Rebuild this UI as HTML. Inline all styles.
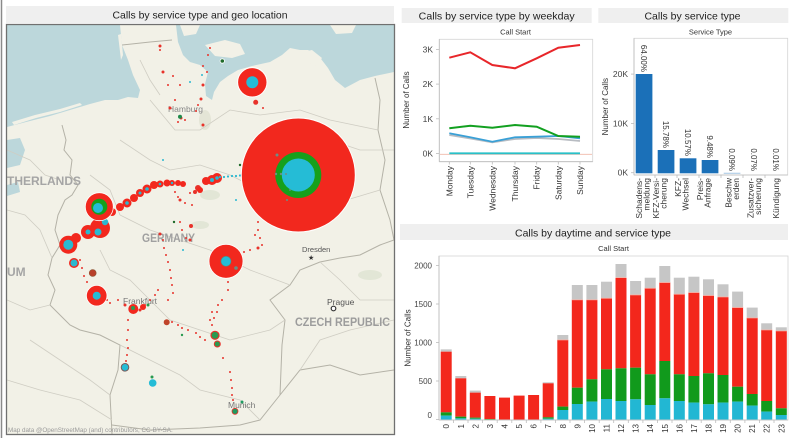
<!DOCTYPE html>
<html><head><meta charset="utf-8"><style>
html,body{margin:0;padding:0;background:#fff;}
svg{display:block;font-family:"Liberation Sans",Arial,sans-serif;}
</style></head><body>
<svg width="800" height="438" viewBox="0 0 800 438" xmlns="http://www.w3.org/2000/svg">
<defs><clipPath id="mc"><rect x="7" y="25" width="387" height="409"/></clipPath></defs>
<rect x="0" y="0" width="800" height="438" fill="#fff"/>
<line x1="1.5" y1="0" x2="1.5" y2="438" stroke="#8a8a8a" stroke-width="1.5"/>

<!-- ============ MAP PANEL ============ -->
<rect x="6" y="6" width="388" height="17" fill="#efefef"/>
<text x="200" y="18.5" font-size="10.5" fill="#222" text-anchor="middle" textLength="175" lengthAdjust="spacingAndGlyphs">Calls by service type and geo location</text>
<g clip-path="url(#mc)">
<rect x="7" y="25" width="387" height="409" fill="#f2f1e7"/>
<polygon fill="#bcd7db" points="7,25 120,25 122,45 128,60 133,75 140,90 138,98 128,97 118,100 105,100 90,104 70,110 50,116 30,121 7,127"/>
<polygon fill="#f2f1e7" points="12,122 35,115 60,109 80,103 82,105 60,112 36,118 14,125"/>
<polygon fill="#f2f1e7" points="118,35 121,34 123,55 121,60"/>
<polygon fill="#bcd7db" points="176,25 394,25 394,72 375,76 360,80 345,88 335,80 328,68 318,55 308,50 300,50 290,48 282,55 270,62 252,66 238,70 228,76 220,82 214,92 212,100 206,96 205,84 208,72 200,65 190,62 183,55 178,42"/>
<polygon fill="#f2f1e7" points="205,45 225,40 240,44 245,54 232,58 215,56"/>
<polygon fill="#f2f1e7" points="330,25 356,25 352,33 336,34"/>
<polygon fill="#f2f1e7" points="302,52 312,50 322,58 316,66 306,62"/>
<polygon fill="#f2f1e7" points="180,25 200,25 196,34 184,36"/>
<polygon fill="#bcd7db" points="7,140 20,138 25,150 20,165 7,168"/>
<polygon fill="#bcd7db" points="7,185 18,182 20,192 7,196"/>
<ellipse cx="210" cy="195" rx="10" ry="5" fill="#e2e6d6"/>
<ellipse cx="205" cy="120" rx="6" ry="10" fill="#e4e5d6"/>
<ellipse cx="370" cy="275" rx="12" ry="5" fill="#e2e6d6"/>
<ellipse cx="200" cy="225" rx="9" ry="4" fill="#e2e6d6"/>
<g fill="none" stroke="#b4b2a7" stroke-width="1">
<polyline points="62,125 66,140 64,150 72,160 70,175 78,185 72,195 65,200 58,215 55,230 60,245 52,258 48,275 55,290 50,305 60,315 70,325 80,330 100,335 120,345 118,370 110,395 112,434"/>
<polyline points="112,425 150,430 200,428 240,425 260,420 280,395 300,370 330,365 360,375 394,370"/>
<polyline points="280,395 282,345 285,320 270,300 290,285 300,270 320,262 340,258 360,255 380,245 394,240"/>
<polyline points="375,78 380,100 378,130 385,160 380,190 390,220 394,240"/>
<polyline points="122,45 150,42 172,40"/>
</g>
<g fill="none" stroke="#cfcdc3" stroke-width="0.8">
<polyline points="7,150 30,160 45,175 60,180"/>
<polyline points="7,210 25,215 40,230 52,258"/>
<polyline points="7,300 30,310 50,305"/>
<polyline points="150,100 175,130 200,130 230,110 260,115 300,110 330,120 378,130"/>
<polyline points="120,140 150,160 170,170 200,165 230,175 260,190 300,200 330,205 380,190"/>
<polyline points="90,175 110,190 120,215 150,230 180,240 210,250 250,270 290,285"/>
<polyline points="100,250 110,270 130,280 150,300 170,320 200,330 230,340 270,330 285,320"/>
<polyline points="120,345 150,360 180,375 200,390 240,400 260,420"/>
<polyline points="30,340 60,360 90,380 110,395"/>
<polyline points="300,370 320,340 350,330 394,320"/>
<polyline points="320,262 340,280 360,300 394,300"/>
<polyline points="7,380 40,390 80,400 112,420"/>
<polyline points="140,60 150,80 160,95"/>
<polyline points="330,140 360,150 394,150"/>
</g>
<text x="7" y="185" font-size="12" font-weight="bold" fill="#a5a5a5">THERLANDS</text>
<text x="7" y="276" font-size="12" font-weight="bold" fill="#a5a5a5">UM</text>
<text x="142" y="242" font-size="11.5" font-weight="bold" fill="#a0a0a0" textLength="53" lengthAdjust="spacingAndGlyphs">GERMANY</text>
<text x="295" y="326" font-size="12" font-weight="bold" fill="#9c9c9c" textLength="95" lengthAdjust="spacingAndGlyphs">CZECH REPUBLIC</text>
<text x="168" y="112" font-size="8.5" fill="#888">Hamburg</text>
<text x="302" y="252" font-size="7.5" fill="#555">Dresden</text>
<text x="308" y="260" font-size="7" fill="#333">★</text>
<text x="327" y="305" font-size="8.5" fill="#555">Prague</text>
<circle cx="333.5" cy="308.5" r="2.3" fill="#fff" stroke="#333" stroke-width="1.2"/>
<text x="123" y="304" font-size="8.5" fill="#777">Frankfurt</text>
<text x="228" y="408" font-size="8.5" fill="#777">Munich</text>
<text x="8" y="432" font-size="6.3" fill="#9a9a9a">Map data @OpenStreetMap (and) contributors, CC-BY-SA.</text>

<g fill="#e8322a">
<circle cx="160" cy="46" r="1.5"/><circle cx="160" cy="50" r="1"/><circle cx="163" cy="72" r="1.5"/><circle cx="173" cy="76" r="1"/><circle cx="168" cy="85" r="1"/><circle cx="180" cy="85" r="1"/><circle cx="175" cy="100" r="1"/><circle cx="170" cy="108" r="1.5"/><circle cx="181" cy="118" r="1.5"/><circle cx="185" cy="120" r="1"/><circle cx="178" cy="122" r="1"/><circle cx="203" cy="66" r="1"/><circle cx="207" cy="72" r="1"/><circle cx="203" cy="85" r="1.5"/><circle cx="201" cy="99" r="1.5"/><circle cx="198" cy="105" r="1"/><circle cx="203" cy="125" r="1.5"/><circle cx="196" cy="111" r="1"/>
<circle cx="255.7" cy="102.3" r="2.5"/><circle cx="263" cy="108" r="1"/>
<circle cx="175" cy="192" r="1"/><circle cx="178" cy="197" r="1"/><circle cx="190" cy="193" r="1"/><circle cx="195" cy="192" r="2"/><circle cx="198" cy="188" r="3"/><circle cx="180" cy="200" r="1.5"/><circle cx="185" cy="203" r="1"/><circle cx="192" cy="205" r="1"/>
<circle cx="163" cy="240" r="1"/><circle cx="164" cy="248" r="1"/><circle cx="166" cy="255" r="1"/><circle cx="168" cy="262" r="1"/><circle cx="170" cy="270" r="1"/><circle cx="171" cy="278" r="1"/><circle cx="172" cy="285" r="1"/><circle cx="173" cy="293" r="1"/><circle cx="168" cy="300" r="1"/><circle cx="160" cy="234" r="1.5"/>
<circle cx="180" cy="222" r="1"/><circle cx="182" cy="230" r="1"/><circle cx="186" cy="238" r="1"/><circle cx="190" cy="240" r="1.5"/><circle cx="191" cy="226" r="2"/>
<circle cx="258" cy="222" r="1"/><circle cx="258" cy="230" r="1"/><circle cx="260" cy="238" r="1"/><circle cx="262" cy="245" r="1"/><circle cx="258" cy="248" r="1.5"/><circle cx="262" cy="212" r="1"/><circle cx="255" cy="235" r="1"/><circle cx="244" cy="252" r="1"/><circle cx="250" cy="250" r="1"/>
<circle cx="228" cy="282" r="1"/><circle cx="228" cy="290" r="1"/><circle cx="222" cy="300" r="1"/><circle cx="218" cy="305" r="1"/><circle cx="212" cy="312" r="1"/><circle cx="210" cy="320" r="1"/>
<circle cx="118" cy="300" r="1"/><circle cx="125" cy="305" r="1.5"/><circle cx="140" cy="310" r="1.5"/><circle cx="145" cy="305" r="1"/><circle cx="150" cy="300" r="1"/><circle cx="155" cy="295" r="1"/><circle cx="158" cy="290" r="1"/>
<circle cx="128" cy="320" r="1"/><circle cx="128" cy="330" r="1"/><circle cx="127" cy="340" r="1"/><circle cx="128" cy="348" r="1"/><circle cx="127" cy="355" r="1"/><circle cx="126" cy="361" r="1"/>
<circle cx="172" cy="322" r="1"/><circle cx="178" cy="325" r="1"/><circle cx="182" cy="328" r="1"/><circle cx="188" cy="330" r="1"/><circle cx="196" cy="333" r="1"/><circle cx="200" cy="337" r="1"/><circle cx="205" cy="340" r="1"/>
<circle cx="217" cy="312" r="1"/><circle cx="214" cy="318" r="1"/><circle cx="212" cy="325" r="1"/><circle cx="223" cy="358" r="1"/><circle cx="230" cy="372" r="1"/><circle cx="231" cy="380" r="1"/><circle cx="232" cy="388" r="1"/><circle cx="232" cy="395" r="1"/><circle cx="233" cy="400" r="1"/>
<circle cx="80" cy="260" r="1"/><circle cx="82" cy="268" r="1"/><circle cx="84" cy="276" r="1"/><circle cx="87" cy="282" r="1"/><circle cx="104" cy="290" r="1"/><circle cx="107" cy="300" r="1"/><circle cx="110" cy="303" r="1"/>
<circle cx="208" cy="55" r="1"/><circle cx="210" cy="48" r="1"/>
</g>
<g fill="#f2281e">
<circle cx="112" cy="212" r="4"/><circle cx="120" cy="207" r="4"/><circle cx="127" cy="203" r="4.5"/><circle cx="134" cy="198" r="4"/><circle cx="140" cy="193" r="4"/><circle cx="147" cy="189" r="4.5"/><circle cx="154" cy="185" r="4"/><circle cx="160" cy="184" r="3.5"/><circle cx="167" cy="183" r="3.5"/><circle cx="172" cy="183" r="3"/><circle cx="178" cy="183" r="3"/><circle cx="183" cy="184" r="3"/><circle cx="200" cy="190" r="3"/><circle cx="206" cy="181" r="4"/><circle cx="212" cy="180" r="5"/><circle cx="217" cy="178" r="5"/>
<circle cx="100" cy="228" r="10"/><circle cx="88" cy="232" r="7"/><circle cx="68.3" cy="244.7" r="9"/><circle cx="76" cy="238" r="5"/><circle cx="74" cy="263" r="5"/>
<circle cx="133.3" cy="309" r="5"/><circle cx="143" cy="307" r="3"/>
</g>
<g fill="#2bb8d0">
<circle cx="127" cy="203" r="1.8"/><circle cx="140" cy="193" r="1.5"/><circle cx="147" cy="189" r="1.8"/><circle cx="160" cy="184" r="1.3"/><circle cx="172" cy="183" r="1.2"/><circle cx="212" cy="180" r="2"/><circle cx="217" cy="178" r="1.8"/>
<circle cx="105" cy="222" r="3.2"/><circle cx="98" cy="232" r="3.5"/><circle cx="88" cy="232" r="2.5"/><circle cx="68.3" cy="244.7" r="5"/><circle cx="74" cy="263" r="3.5"/>
<circle cx="220" cy="177" r="1.1"/><circle cx="224" cy="177" r="1.1"/><circle cx="228" cy="176.5" r="1.1"/><circle cx="232" cy="176" r="1.1"/><circle cx="236" cy="176" r="1.1"/><circle cx="240" cy="175.5" r="1.1"/><circle cx="245" cy="175" r="1.1"/><circle cx="250" cy="175" r="1.1"/><circle cx="255" cy="175" r="1.1"/><circle cx="260" cy="175" r="1.1"/><circle cx="265" cy="174.5" r="1.1"/><circle cx="270" cy="174.5" r="1.1"/>
<circle cx="202" cy="75" r="1"/><circle cx="190" cy="82" r="1"/><circle cx="163" cy="160" r="1"/><circle cx="236" cy="200" r="1"/><circle cx="183" cy="250" r="1"/>
</g>
<g fill="#6a8f86">
<circle cx="283" cy="128" r="0.9"/><circle cx="283" cy="134" r="0.9"/><circle cx="283" cy="140" r="0.9"/><circle cx="283" cy="146" r="0.9"/><circle cx="283" cy="152" r="0.9"/><circle cx="283" cy="158" r="0.9"/><circle cx="283" cy="164" r="0.9"/><circle cx="283" cy="186" r="0.9"/><circle cx="283" cy="192" r="0.9"/><circle cx="283" cy="198" r="0.9"/><circle cx="283" cy="204" r="0.9"/><circle cx="283" cy="210" r="0.9"/>
</g>
<circle cx="298.3" cy="175" r="57" fill="#f2281e" stroke="#fff" stroke-width="1"/>
<circle cx="298.3" cy="175" r="23" fill="#16a01c"/>
<circle cx="298.3" cy="175" r="16.5" fill="#25bcd6"/>
<g fill="#6a8f86"><circle cx="276" cy="174" r="1.2"/><circle cx="281" cy="174" r="1.2"/><circle cx="286" cy="174" r="1"/><circle cx="277" cy="155" r="1.5"/><circle cx="287" cy="200" r="1"/><circle cx="290" cy="190" r="0.9"/></g>
<circle cx="252.3" cy="82.3" r="14.7" fill="#f2281e" stroke="#fff" stroke-width="1"/>
<circle cx="252.3" cy="82.3" r="6" fill="#25bcd6"/>
<circle cx="99.3" cy="206.7" r="14" fill="#f2281e" stroke="#fff" stroke-width="0.8"/>
<circle cx="99.3" cy="206.7" r="8" fill="#16a01c"/>
<circle cx="98" cy="208" r="5" fill="#25bcd6"/>
<circle cx="226" cy="261.3" r="17" fill="#f2281e" stroke="#fff" stroke-width="0.8"/>
<circle cx="226" cy="261.3" r="5" fill="#25bcd6" stroke="#5a8a7a" stroke-width="0.6"/>
<circle cx="236" cy="268" r="1.8" fill="#6a8f86"/>
<circle cx="96.7" cy="295.7" r="10.3" fill="#f2281e" stroke="#fff" stroke-width="0.8"/>
<circle cx="96.7" cy="295.7" r="4" fill="#25bcd6"/>
<circle cx="92.7" cy="273" r="3.5" fill="#b8402a" stroke="#8a5a3a" stroke-width="0.6"/>
<circle cx="166.7" cy="322.3" r="3" fill="#c0442a"/>
<circle cx="215" cy="335.3" r="4" fill="#2a9a50" stroke="#e8322a" stroke-width="1.2"/>
<circle cx="217.3" cy="344" r="3" fill="#2a9a50" stroke="#e8322a" stroke-width="1"/>
<circle cx="125" cy="367.3" r="3.8" fill="#25bcd6" stroke="#7a5a5a" stroke-width="1"/>
<circle cx="152.7" cy="383" r="3.8" fill="#25bcd6"/>
<circle cx="152" cy="377" r="1.5" fill="#2a9a50"/>
<circle cx="235" cy="411.3" r="3" fill="#1f9a60" stroke="#e8322a" stroke-width="0.8"/>
<circle cx="242" cy="402" r="1.5" fill="#1f9a60"/>
<circle cx="180" cy="116.7" r="2" fill="#1f8a4a"/>
<circle cx="222.3" cy="61" r="2.2" fill="#1f6a2a" stroke="#fff" stroke-width="0.8"/>
<circle cx="133" cy="308" r="2" fill="#2a9a50"/>
<circle cx="148" cy="305" r="1.5" fill="#2a9a50"/>
<circle cx="182" cy="335" r="1.2" fill="#2a9a50"/>
<circle cx="174" cy="222" r="1.2" fill="#1f6a2a"/>
<circle cx="240" cy="165" r="1.2" fill="#1f6a2a"/>
</g>
<rect x="6.5" y="24.5" width="388" height="410" fill="none" stroke="#707070" stroke-width="1.3"/>

<!-- ============ WEEKDAY CHART ============ -->
<rect x="401.7" y="8" width="190" height="15" fill="#efefef"/>
<text x="496.7" y="19.3" font-size="10.5" fill="#222" text-anchor="middle" textLength="156" lengthAdjust="spacingAndGlyphs">Calls by service type by weekday</text>
<text x="515.5" y="34.5" font-size="7.5" fill="#333" text-anchor="middle">Call Start</text>
<rect x="439.3" y="39.3" width="153.4" height="122.4" fill="none" stroke="#d4d4d4" stroke-width="0.8"/>
<line x1="439.3" y1="39.3" x2="439.3" y2="161.7" stroke="#bcbcbc" stroke-width="0.8"/>
<line x1="439.3" y1="161.7" x2="592.7" y2="161.7" stroke="#bcbcbc" stroke-width="0.8"/>
<g stroke="#bcbcbc" stroke-width="0.8">
<line x1="436" y1="49.4" x2="439.3" y2="49.4"/><line x1="436" y1="84.1" x2="439.3" y2="84.1"/><line x1="436" y1="118.8" x2="439.3" y2="118.8"/><line x1="436" y1="153.5" x2="439.3" y2="153.5"/>
<line x1="449.3" y1="161.7" x2="449.3" y2="164.5"/><line x1="470.3" y1="161.7" x2="470.3" y2="164.5"/><line x1="492.3" y1="161.7" x2="492.3" y2="164.5"/><line x1="515" y1="161.7" x2="515" y2="164.5"/><line x1="536.7" y1="161.7" x2="536.7" y2="164.5"/><line x1="558.3" y1="161.7" x2="558.3" y2="164.5"/><line x1="580" y1="161.7" x2="580" y2="164.5"/>
</g>
<g font-size="8.5" fill="#444" text-anchor="end">
<text x="433" y="52.4">3K</text><text x="433" y="87.1">2K</text><text x="433" y="121.8">1K</text><text x="433" y="156.5">0K</text>
</g>
<text transform="translate(409,100) rotate(-90)" font-size="8" fill="#333" text-anchor="middle">Number of Calls</text>
<line x1="440" y1="154.3" x2="592" y2="154.3" stroke="#f0b8a8" stroke-width="0.8"/>
<polyline fill="none" stroke="#29c0c8" stroke-width="1.8" points="449.3,153.3 470.3,153.3 492.3,153.3 515,153.3 536.7,153.3 558.3,153.3 580,153.3"/>
<polyline fill="none" stroke="#b8bcc2" stroke-width="1.8" points="449.3,135 470.3,138.5 492.3,142.3 515,139 536.7,138 558.3,139 580,141"/>
<polyline fill="none" stroke="#3aa0d6" stroke-width="1.8" points="449.3,133.3 470.3,137.3 492.3,141.7 515,137.3 536.7,136.7 558.3,136 580,138.3"/>
<polyline fill="none" stroke="#12a020" stroke-width="2" points="449.3,128.3 470.3,125.7 492.3,127.7 515,125 536.7,126.7 558.3,136 580,136.7"/>
<polyline fill="none" stroke="#e8262a" stroke-width="2" points="449.3,57.7 470.3,52.3 492.3,65 515,68.3 536.7,58.3 558.3,47.7 580,45"/>
<g font-size="8.5" fill="#333" text-anchor="end">
<text transform="translate(452.3,166) rotate(-90)">Monday</text>
<text transform="translate(473.3,166) rotate(-90)">Tuesday</text>
<text transform="translate(495.3,166) rotate(-90)">Wednesday</text>
<text transform="translate(518,166) rotate(-90)">Thursday</text>
<text transform="translate(539.7,166) rotate(-90)">Friday</text>
<text transform="translate(561.3,166) rotate(-90)">Saturday</text>
<text transform="translate(583,166) rotate(-90)">Sunday</text>
</g>

<!-- ============ SERVICE TYPE CHART ============ -->
<rect x="598.3" y="8" width="190" height="15" fill="#efefef"/>
<text x="692.5" y="19.3" font-size="10.5" fill="#222" text-anchor="middle" textLength="96" lengthAdjust="spacingAndGlyphs">Calls by service type</text>
<text x="710.5" y="34.5" font-size="7.5" fill="#333" text-anchor="middle">Service Type</text>
<rect x="634" y="38.3" width="153.7" height="136.7" fill="none" stroke="#d4d4d4" stroke-width="0.8"/>
<line x1="634" y1="38.3" x2="634" y2="175" stroke="#bcbcbc" stroke-width="0.8"/>
<line x1="634" y1="175" x2="787.7" y2="175" stroke="#bcbcbc" stroke-width="0.8"/>
<g stroke="#bcbcbc" stroke-width="0.8">
<line x1="631" y1="74.1" x2="634" y2="74.1"/><line x1="631" y1="123.4" x2="634" y2="123.4"/><line x1="631" y1="172.7" x2="634" y2="172.7"/>
<line x1="655" y1="175" x2="655" y2="178"/><line x1="677" y1="175" x2="677" y2="178"/><line x1="699" y1="175" x2="699" y2="178"/><line x1="721" y1="175" x2="721" y2="178"/><line x1="743" y1="175" x2="743" y2="178"/><line x1="765" y1="175" x2="765" y2="178"/>
</g>
<g font-size="8.5" fill="#444" text-anchor="end">
<text x="628" y="77">20K</text><text x="628" y="126.3">10K</text><text x="628" y="175.6">0K</text>
</g>
<text transform="translate(608,106.7) rotate(-90)" font-size="8" fill="#333" text-anchor="middle">Number of Calls</text>
<g fill="#1b70b8">
<rect x="635.7" y="74" width="16.7" height="99.3"/>
<rect x="657.7" y="150" width="16.7" height="23.3"/>
<rect x="679.7" y="158.3" width="16.7" height="15"/>
<rect x="701.7" y="160" width="16.7" height="13.3"/>
<rect x="723.7" y="172.9" width="16.7" height="0.4"/>
</g>
<g font-size="8" fill="#333" text-anchor="end">
<text transform="translate(641,72) rotate(90)">64.00%</text>
<text transform="translate(663,148) rotate(90)">15.78%</text>
<text transform="translate(685,156) rotate(90)">10.57%</text>
<text transform="translate(707,158) rotate(90)">9.48%</text>
<text transform="translate(729,171) rotate(90)">0.09%</text>
<text transform="translate(751,171) rotate(90)">0.07%</text>
<text transform="translate(773,171) rotate(90)">0.01%</text>
</g>
<g font-size="8.5" fill="#333" text-anchor="end">
<text transform="translate(642,178) rotate(-90)">Schadens-</text>
<text transform="translate(649.5,178) rotate(-90)">meldung</text>
<text transform="translate(659,178) rotate(-90)">KFZ-Versi-</text>
<text transform="translate(666.5,178) rotate(-90)">cherung</text>
<text transform="translate(681,178) rotate(-90)">KFZ-</text>
<text transform="translate(688.5,178) rotate(-90)">Wechsel</text>
<text transform="translate(703,178) rotate(-90)">Preis-</text>
<text transform="translate(710.5,178) rotate(-90)">Anfrage</text>
<text transform="translate(731.5,178) rotate(-90)">Beschw</text>
<text transform="translate(739,178) rotate(-90)">erden</text>
<text transform="translate(753.5,178) rotate(-90)">Zusatzver-</text>
<text transform="translate(761,178) rotate(-90)">sicherung</text>
<text transform="translate(779,178) rotate(-90)">Kündigung</text>
</g>

<!-- ============ DAYTIME CHART ============ -->
<rect x="400" y="224" width="388" height="16" fill="#efefef"/>
<text x="593" y="236.3" font-size="10.5" fill="#222" text-anchor="middle" textLength="156" lengthAdjust="spacingAndGlyphs">Calls by daytime and service type</text>
<text x="613.5" y="251" font-size="7.5" fill="#333" text-anchor="middle">Call Start</text>
<rect x="439" y="256" width="349" height="164" fill="none" stroke="#d4d4d4" stroke-width="0.8"/>
<line x1="439" y1="256" x2="439" y2="420" stroke="#bcbcbc" stroke-width="0.8"/>
<line x1="439" y1="420" x2="788" y2="420" stroke="#bcbcbc" stroke-width="0.8"/>
<g stroke="#bcbcbc" stroke-width="0.8">
<line x1="436" y1="265.5" x2="439" y2="265.5"/><line x1="436" y1="304" x2="439" y2="304"/><line x1="436" y1="342.5" x2="439" y2="342.5"/><line x1="436" y1="381" x2="439" y2="381"/><line x1="436" y1="419.5" x2="439" y2="419.5"/>
</g>
<g font-size="8" fill="#444" text-anchor="end">
<text x="432" y="268.5">2000</text><text x="432" y="307">1500</text><text x="432" y="345.5">1000</text><text x="432" y="384">500</text><text x="432" y="418">0</text>
</g>
<text transform="translate(410.5,338) rotate(-90)" font-size="8" fill="#333" text-anchor="middle">Number of Calls</text>
<g fill="#c6c6c6">
<rect x="440.7" y="349.35" width="11" height="2.3"/><rect x="455.3" y="376" width="11" height="2.3"/><rect x="469.8" y="390.6" width="11" height="2.03"/><rect x="542.7" y="382.3" width="11" height="1"/>
<rect x="557.3" y="335" width="11" height="5"/><rect x="571.8" y="285" width="11" height="14.9"/><rect x="586.4" y="285" width="11" height="14.9"/><rect x="601" y="281.7" width="11" height="16.6"/>
<rect x="615.5" y="264" width="11" height="13.7"/><rect x="630.1" y="281" width="11" height="14"/><rect x="644.7" y="277.7" width="11" height="10.6"/><rect x="659.3" y="266" width="11" height="16.6"/>
<rect x="673.8" y="277.7" width="11" height="16.6"/><rect x="688.4" y="276.7" width="11" height="15.9"/><rect x="703" y="279.3" width="11" height="16.3"/><rect x="717.5" y="284.3" width="11" height="12.7"/>
<rect x="732.1" y="291.6" width="11" height="16"/><rect x="746.7" y="307.6" width="11" height="10.4"/><rect x="761.2" y="323.3" width="11" height="6.7"/><rect x="775.8" y="327.3" width="11" height="3.7"/>
</g>
<g fill="#f3271c">
<rect x="440.7" y="351.66" width="11" height="60.68"/><rect x="455.3" y="378.3" width="11" height="38.35"/><rect x="469.8" y="392.63" width="11" height="25.02"/><rect x="484.4" y="396" width="11" height="23.1"/>
<rect x="499" y="397.6" width="11" height="21.9"/><rect x="513.6" y="395.6" width="11" height="23.9"/><rect x="528.1" y="395" width="11" height="24.5"/><rect x="542.7" y="383.3" width="11" height="34"/>
<rect x="557.3" y="340" width="11" height="66.6"/><rect x="571.8" y="299.9" width="11" height="87.8"/><rect x="586.4" y="299.9" width="11" height="79.4"/><rect x="601" y="298.3" width="11" height="71"/>
<rect x="615.5" y="277.7" width="11" height="90.6"/><rect x="630.1" y="295" width="11" height="72.7"/><rect x="644.7" y="288.3" width="11" height="86"/><rect x="659.3" y="282.6" width="11" height="78.4"/>
<rect x="673.8" y="294.3" width="11" height="80"/><rect x="688.4" y="292.6" width="11" height="83.4"/><rect x="703" y="295.6" width="11" height="77.7"/><rect x="717.5" y="297" width="11" height="78"/>
<rect x="732.1" y="307.6" width="11" height="79.1"/><rect x="746.7" y="318" width="11" height="76"/><rect x="761.2" y="330" width="11" height="71"/><rect x="775.8" y="331" width="11" height="77.3"/>
</g>
<g fill="#f7b4a8">
<rect x="557.3" y="339.5" width="11" height="0.8"/><rect x="571.8" y="299.4" width="11" height="0.8"/><rect x="586.4" y="299.4" width="11" height="0.8"/><rect x="601" y="297.8" width="11" height="0.8"/>
<rect x="615.5" y="277.2" width="11" height="0.8"/><rect x="630.1" y="294.5" width="11" height="0.8"/><rect x="644.7" y="287.8" width="11" height="0.8"/><rect x="659.3" y="282.1" width="11" height="0.8"/>
<rect x="673.8" y="293.8" width="11" height="0.8"/><rect x="688.4" y="292.1" width="11" height="0.8"/><rect x="703" y="295.1" width="11" height="0.8"/><rect x="717.5" y="296.5" width="11" height="0.8"/>
<rect x="732.1" y="307.1" width="11" height="0.8"/><rect x="746.7" y="317.5" width="11" height="0.8"/><rect x="761.2" y="329.5" width="11" height="0.8"/><rect x="775.8" y="330.5" width="11" height="0.8"/>
</g>
<g fill="#119a1c">
<rect x="440.7" y="412.34" width="11" height="3.31"/><rect x="455.3" y="416.65" width="11" height="1.7"/><rect x="469.8" y="417.65" width="11" height="1.08"/><rect x="484.4" y="419.1" width="11" height="0.4"/>
<rect x="542.7" y="417.3" width="11" height="1.4"/>
<rect x="557.3" y="406.6" width="11" height="3.4"/><rect x="571.8" y="387.7" width="11" height="16.3"/><rect x="586.4" y="379.3" width="11" height="22.3"/><rect x="601" y="369.3" width="11" height="29.7"/>
<rect x="615.5" y="368.3" width="11" height="32.7"/><rect x="630.1" y="367.7" width="11" height="31.6"/><rect x="644.7" y="374.3" width="11" height="30.7"/><rect x="659.3" y="361" width="11" height="37.3"/>
<rect x="673.8" y="374.3" width="11" height="26.7"/><rect x="688.4" y="376" width="11" height="26.6"/><rect x="703" y="373.3" width="11" height="31"/><rect x="717.5" y="375" width="11" height="27.6"/>
<rect x="732.1" y="386.7" width="11" height="14.9"/><rect x="746.7" y="394" width="11" height="11.6"/><rect x="761.2" y="401" width="11" height="10.6"/><rect x="775.8" y="408.3" width="11" height="6.7"/>
</g>
<g fill="#22b7d3">
<rect x="440.7" y="415.65" width="11" height="3.85"/><rect x="455.3" y="418.35" width="11" height="1.15"/><rect x="469.8" y="418.73" width="11" height="0.77"/><rect x="542.7" y="418.7" width="11" height="0.8"/>
<rect x="557.3" y="410" width="11" height="9.5"/><rect x="571.8" y="404" width="11" height="15.5"/><rect x="586.4" y="401.6" width="11" height="17.9"/><rect x="601" y="399" width="11" height="20.5"/>
<rect x="615.5" y="401" width="11" height="18.5"/><rect x="630.1" y="399.3" width="11" height="20.2"/><rect x="644.7" y="405" width="11" height="14.5"/><rect x="659.3" y="398.3" width="11" height="21.2"/>
<rect x="673.8" y="401" width="11" height="18.5"/><rect x="688.4" y="402.6" width="11" height="16.9"/><rect x="703" y="404.3" width="11" height="15.2"/><rect x="717.5" y="402.6" width="11" height="16.9"/>
<rect x="732.1" y="401.6" width="11" height="17.9"/><rect x="746.7" y="405.6" width="11" height="13.9"/><rect x="761.2" y="411.6" width="11" height="7.9"/><rect x="775.8" y="415" width="11" height="4.5"/>
</g>
<g stroke="#bcbcbc" stroke-width="0.8">
<line x1="453.5" y1="420" x2="453.5" y2="423"/><line x1="468" y1="420" x2="468" y2="423"/><line x1="482.6" y1="420" x2="482.6" y2="423"/><line x1="497.2" y1="420" x2="497.2" y2="423"/><line x1="511.8" y1="420" x2="511.8" y2="423"/><line x1="526.3" y1="420" x2="526.3" y2="423"/><line x1="540.9" y1="420" x2="540.9" y2="423"/><line x1="555.5" y1="420" x2="555.5" y2="423"/><line x1="570" y1="420" x2="570" y2="423"/><line x1="584.6" y1="420" x2="584.6" y2="423"/><line x1="599.2" y1="420" x2="599.2" y2="423"/><line x1="613.7" y1="420" x2="613.7" y2="423"/><line x1="628.3" y1="420" x2="628.3" y2="423"/><line x1="642.9" y1="420" x2="642.9" y2="423"/><line x1="657.5" y1="420" x2="657.5" y2="423"/><line x1="672" y1="420" x2="672" y2="423"/><line x1="686.6" y1="420" x2="686.6" y2="423"/><line x1="701.2" y1="420" x2="701.2" y2="423"/><line x1="715.7" y1="420" x2="715.7" y2="423"/><line x1="730.3" y1="420" x2="730.3" y2="423"/><line x1="744.9" y1="420" x2="744.9" y2="423"/><line x1="759.4" y1="420" x2="759.4" y2="423"/><line x1="774" y1="420" x2="774" y2="423"/>
</g>
<g font-size="8" fill="#333" text-anchor="end">
<text transform="translate(449.2,424) rotate(-90)">0</text>
<text transform="translate(463.8,424) rotate(-90)">1</text>
<text transform="translate(478.3,424) rotate(-90)">2</text>
<text transform="translate(492.9,424) rotate(-90)">3</text>
<text transform="translate(507.5,424) rotate(-90)">4</text>
<text transform="translate(522.1,424) rotate(-90)">5</text>
<text transform="translate(536.6,424) rotate(-90)">6</text>
<text transform="translate(551.2,424) rotate(-90)">7</text>
<text transform="translate(565.8,424) rotate(-90)">8</text>
<text transform="translate(580.3,424) rotate(-90)">9</text>
<text transform="translate(594.9,424) rotate(-90)">10</text>
<text transform="translate(609.5,424) rotate(-90)">11</text>
<text transform="translate(624,424) rotate(-90)">12</text>
<text transform="translate(638.6,424) rotate(-90)">13</text>
<text transform="translate(653.2,424) rotate(-90)">14</text>
<text transform="translate(667.8,424) rotate(-90)">15</text>
<text transform="translate(682.3,424) rotate(-90)">16</text>
<text transform="translate(696.9,424) rotate(-90)">17</text>
<text transform="translate(711.5,424) rotate(-90)">18</text>
<text transform="translate(726,424) rotate(-90)">19</text>
<text transform="translate(740.6,424) rotate(-90)">20</text>
<text transform="translate(755.2,424) rotate(-90)">21</text>
<text transform="translate(769.7,424) rotate(-90)">22</text>
<text transform="translate(784.3,424) rotate(-90)">23</text>
</g>
</svg>
</body></html>
